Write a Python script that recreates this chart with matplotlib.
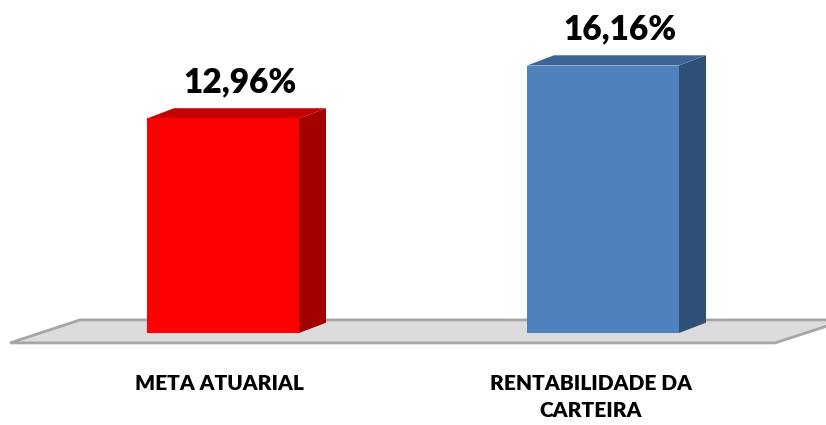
import matplotlib.pyplot as plt
from matplotlib.patches import Polygon

# --- données ---
categories = ['META ATUARIAL', 'RENTABILIDADE DA\nCARTEIRA']
valeurs = [12.96, 16.16]
etiquettes = ['12,96%', '16,16%']

# couleurs : face, côté, dessus
faces = ['#ff0000', '#4f81bd']
cotes = ['#a30000', '#2f4f76']
dessus = ['#c40000', '#3c6595']

plt.rcParams['font.family'] = ['Lato', 'DejaVu Sans']

fig = plt.figure(figsize=(8.26, 4.25), dpi=100)
ax = fig.add_axes([0, 0, 1, 1])
ax.set_xlim(0, 826)
ax.set_ylim(-5.56, 20.12)
ax.axis('off')

# pseudo 3D : décalage de profondeur
dx, dy = 27, 0.62
centres = [223, 603]
largeur = 152

# plancher
plancher = Polygon([(10, -0.6), (775, -0.6), (846, 0.79), (80, 0.79)],
                   closed=True, facecolor='#dcdcdc', edgecolor='#a6a6a6', lw=2, zorder=1)
ax.add_patch(plancher)

barres = ax.bar(centres, valeurs, width=largeur, color=faces, zorder=3)

for b, v, c_cote, c_dessus, txt in zip(barres, valeurs, cotes, dessus, etiquettes):
    x0 = b.get_x()
    x1 = x0 + b.get_width()
    cote = Polygon([(x1, 0), (x1 + dx, dy), (x1 + dx, v + dy), (x1, v)],
                   closed=True, facecolor=c_cote, edgecolor='none', zorder=2)
    haut = Polygon([(x0, v), (x0 + dx, v + dy), (x1 + dx, v + dy), (x1, v)],
                   closed=True, facecolor=c_dessus, edgecolor='none', zorder=2)
    ax.add_patch(cote)
    ax.add_patch(haut)
    ax.text(x0 + b.get_width() / 2 + 17, v + 2.2, txt, ha='center', va='center',
            fontsize=24, fontweight='heavy', color='black')

for xc, cat in zip([219, 591], categories):
    ax.text(xc, -2.5, cat, ha='center', va='top', fontsize=15, fontweight='heavy',
            linespacing=1.5)

fig.savefig('out.png', dpi=100)
